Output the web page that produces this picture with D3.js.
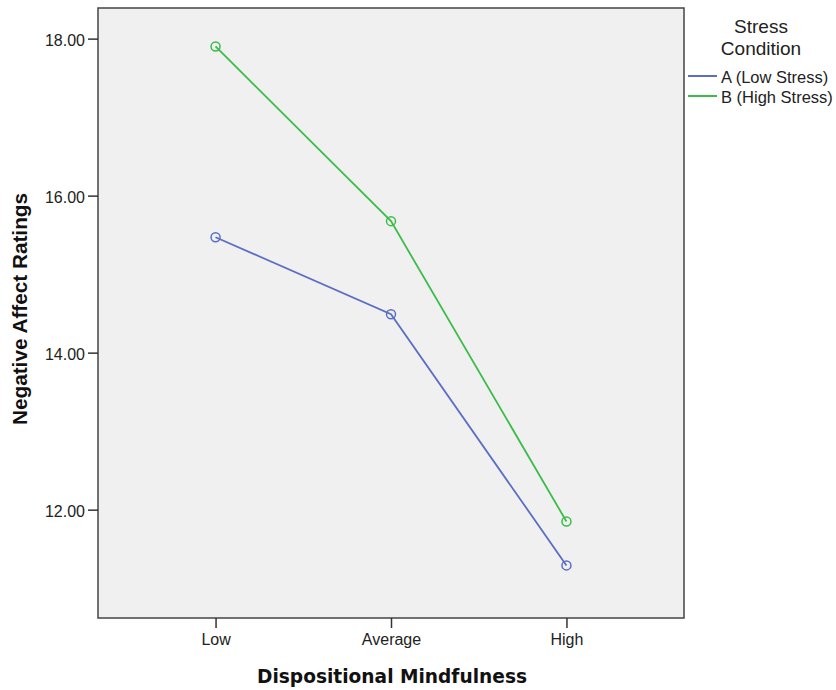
<!DOCTYPE html>
<html><head><meta charset="utf-8">
<script src="https://cdn.jsdelivr.net/npm/d3@7"></script>
<style>body{margin:0;background:#fff}svg{display:block}text{font-family:"Liberation Sans",Arial,sans-serif}</style>
</head><body><svg id="c" width="836" height="690"></svg>
<script>
const categories = ["Low", "Average", "High"];
const seriesNames = ["A (Low Stress)", "B (High Stress)"];
const lowStress = [15.47, 14.49, 11.29];
const highStress = [17.90, 15.675, 11.85];
const yTicks = [12, 14, 16, 18];
const colors = ["#5a6ec4", "#3cbc4a"];

const svg = d3.select("#c");
const L = 98, T = 8, R = 684, B = 618;
const x = d3.scalePoint().domain(categories).range([L, R]).padding(0.67);
const y = d3.scaleLinear().domain([10.62, 18.39]).range([B, T]);

svg.append("rect").attr("x", L).attr("y", T).attr("width", R - L).attr("height", B - T)
  .attr("fill", "#f0f0f0").attr("stroke", "#444").attr("stroke-width", 1.5);

const yAxis = svg.append("g").attr("transform", `translate(${L},0)`)
  .call(d3.axisLeft(y).tickValues(yTicks).tickFormat(d3.format(".2f")).tickSize(10).tickSizeOuter(0));
yAxis.select(".domain").remove();
yAxis.selectAll("line").attr("stroke", "#333").attr("stroke-width", 1.5);
yAxis.selectAll("text").attr("font-size", 16).attr("fill", "#222").attr("x", -13).attr("dy", "0.42em");

const xAxis = svg.append("g").attr("transform", `translate(0,${B})`)
  .call(d3.axisBottom(x).tickSize(10).tickSizeOuter(0));
xAxis.select(".domain").remove();
xAxis.selectAll("line").attr("stroke", "#333").attr("stroke-width", 1.5);
xAxis.selectAll("text").attr("font-size", 16).attr("fill", "#222").attr("y", 27).attr("dy", 0);

const series = [lowStress, highStress];
const line = d3.line().x((d, i) => x(categories[i])).y(d => y(d));
series.forEach((s, k) => {
  svg.append("path").datum(s).attr("d", line).attr("fill", "none")
    .attr("stroke", colors[k]).attr("stroke-width", 1.8);
  svg.selectAll(null).data(s).enter().append("circle")
    .attr("cx", (d, i) => x(categories[i])).attr("cy", d => y(d)).attr("r", 4.5)
    .attr("fill", "none").attr("stroke", colors[k]).attr("stroke-width", 1.5);
});

svg.append("text").attr("transform", `translate(27,309) rotate(-90)`)
  .attr("text-anchor", "middle").attr("font-size", 20).attr("font-weight", "bold")
  .attr("fill", "#111").attr("textLength", 232).attr("lengthAdjust", "spacingAndGlyphs")
  .text("Negative Affect Ratings");
svg.append("text").attr("x", 392).attr("y", 683).attr("text-anchor", "middle")
  .style("font-family", "'DejaVu Sans', sans-serif")
  .attr("font-size", 19).attr("font-weight", "bold").attr("fill", "#111")
  .attr("textLength", 270).attr("lengthAdjust", "spacingAndGlyphs")
  .text("Dispositional Mindfulness");

const lg = svg.append("g");
lg.append("text").attr("x", 761).attr("y", 33).attr("text-anchor", "middle").attr("font-size", 19).attr("fill", "#222").text("Stress");
lg.append("text").attr("x", 761).attr("y", 55).attr("text-anchor", "middle").attr("font-size", 19).attr("fill", "#222").text("Condition");
seriesNames.forEach((n, k) => {
  const yy = 76 + k * 20;
  lg.append("line").attr("x1", 688).attr("x2", 717).attr("y1", yy).attr("y2", yy).attr("stroke", colors[k]).attr("stroke-width", 2);
  lg.append("text").attr("x", 721).attr("y", yy + 7).attr("font-size", 16.5).attr("fill", "#222").text(n);
});
</script></body></html>
